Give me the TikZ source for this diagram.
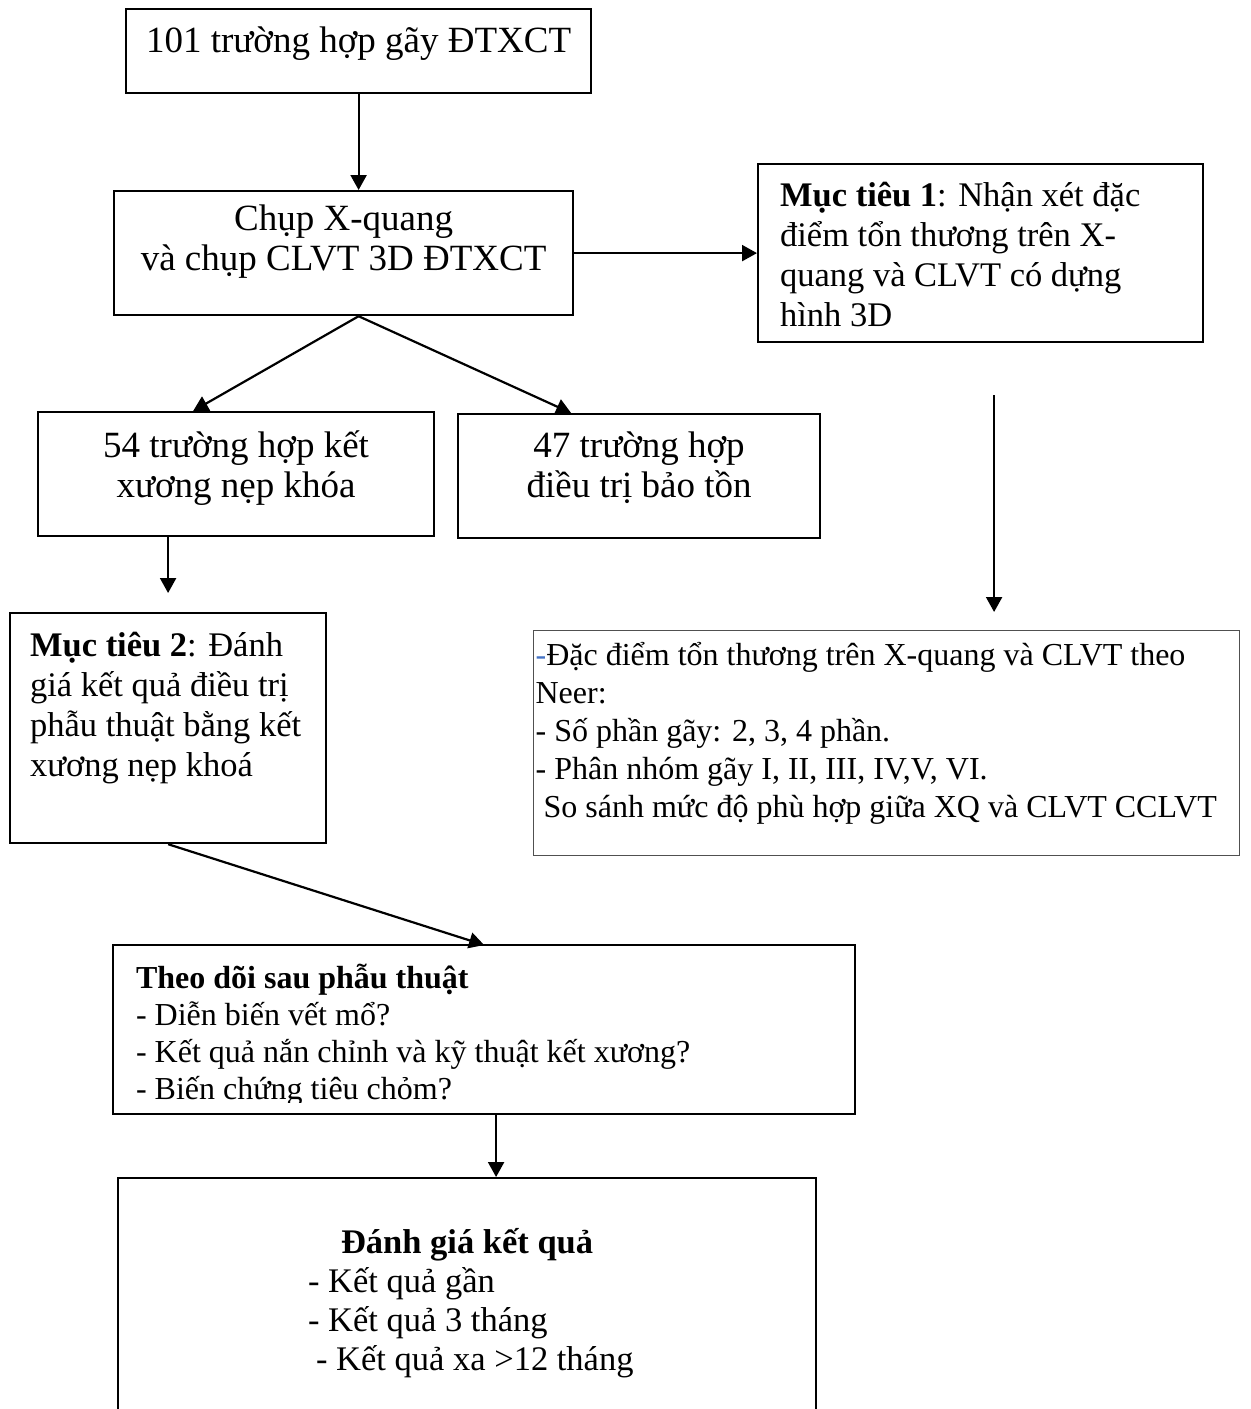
\documentclass[tikz,border=0pt]{standalone}
\usepackage{fontspec}
\setmainfont{Liberation Serif}
\usepackage{xcolor}
\usetikzlibrary{arrows.meta,positioning,calc}

\definecolor{dashblue}{RGB}{68,114,196}
\definecolor{neergray}{RGB}{80,80,80}

\newcommand{\bigfs}{\fontsize{17.25pt}{20pt}\selectfont\lineskiplimit=-\maxdimen}
\newcommand{\casefs}{\fontsize{18.5pt}{20pt}\selectfont\lineskiplimit=-\maxdimen}
\newcommand{\neerfs}{\fontsize{16pt}{19pt}\selectfont\lineskiplimit=-\maxdimen}
\newcommand{\followfs}{\fontsize{16pt}{18.5pt}\selectfont\lineskiplimit=-\maxdimen}
\newcommand{\evalfs}{\fontsize{17.25pt}{19.5pt}\selectfont\lineskiplimit=-\maxdimen}
% box text: width, height, first baseline, text
\newcommand{\boxtext}[4]{\parbox[b][#2][t]{#1}{\rule{0pt}{#3}#4}}

\begin{document}
\begin{tikzpicture}[x=0.5pt,y=-0.5pt,>={Triangle[length=7.5pt,width=8pt]},
  box/.style={draw,line width=1.1pt,anchor=north west,inner sep=0pt,font=\bigfs},
  link/.style={->,line width=1.1pt}]
\useasboundingbox (0,0) rectangle (1251,1409);
\clip (0,0) rectangle (1251,1409);
% Study flow
\node[box,font=\casefs] (start) at (125,8) {\boxtext{232.5pt}{42pt}{21.5pt}{\centering 101 trường hợp gãy ĐTXCT}};
\node[box,font=\casefs] (xray) at (113,190) {\boxtext{229.5pt}{62pt}{19.5pt}{\centering Chụp X-quang\\ và chụp CLVT 3D ĐTXCT}};
\node[box] (mt1) at (757,163) {\boxtext{222.5pt}{89pt}{21pt}{\leftskip=11pt \textbf{Mục tiêu 1}: Nhận xét đặc\\ điểm tổn thương trên X-\\ quang và CLVT có dựng\\ hình 3D}};
\node[box,font=\casefs] (plate) at (37,411) {\boxtext{198pt}{62pt}{22.5pt}{\centering 54 trường hợp kết\\ xương nẹp khóa}};
\node[box,font=\casefs] (cons) at (457,413) {\boxtext{181pt}{62pt}{21.5pt}{\centering 47 trường hợp\\ điều trị bảo tồn}};
\node[box] (mt2) at (9,612) {\boxtext{158pt}{115pt}{21.5pt}{\leftskip=10pt \textbf{Mục tiêu 2}: Đánh\\ giá kết quả điều trị\\ phẫu thuật bằng kết\\ xương nẹp khoá}};
\node[box,draw=neergray,line width=0.6pt,font=\neerfs] (neer) at (533,630) {\boxtext{353pt}{112.5pt}{17.5pt}{\leftskip=1pt {\color{dashblue}-}Đặc điểm tổn thương trên X-quang và CLVT theo\\ Neer:\\ - Số phần gãy: 2, 3, 4 phần.\\ - Phân nhóm gãy I, II, III, IV,V, VI.\\ \hspace*{4pt}So sánh mức độ phù hợp giữa XQ và CLVT CCLVT}};

% follow-up box, text cut at the bottom
\begin{scope}
\clip (113,945) rectangle (853,1102);
\node[box,draw=none,font=\followfs] (follow) at (113,945) {\boxtext{370pt}{83.5pt}{21pt}{\leftskip=11pt \textbf{Theo dõi sau phẫu thuật}\\ - Diễn biến vết mổ?\\ - Kết quả nắn chỉnh và kỹ thuật kết xương?\\ - Biến chứng tiêu chỏm?}};
\end{scope}
\draw[line width=1.1pt] (follow.north west) rectangle (follow.south east);

\node[box,font=\evalfs] (eval) at (117,1177) {\boxtext{349pt}{131.5pt}{37.5pt}{\centering\textbf{Đánh giá kết quả}\par\raggedright\leftskip=95pt - Kết quả gần\\ - Kết quả 3 tháng\\ \hspace*{4pt}- Kết quả xa >12 tháng}};

\draw[link] (start.south) -- (start.south |- xray.north);
\draw[link] (xray.east) -- (mt1.west);
\draw[link] (start.south |- xray.south) -- ([xshift=-21.5pt]plate.north);
\draw[link] (start.south |- xray.south) -- ([xshift=-34pt]cons.north);
\draw[link,shorten >=9.5pt] (plate.south -| mt2.north) -- (mt2.north);
\draw[link,shorten <=26pt,shorten >=9pt] ([xshift=6.75pt]mt1.south) -- ([xshift=6.75pt]mt1.south |- neer.north);
\draw[link] (mt2.south) -- (follow.north);
\draw[link] ([xshift=6pt]follow.south) -- ([xshift=6pt]follow.south |- eval.north);
\end{tikzpicture}
\end{document}
